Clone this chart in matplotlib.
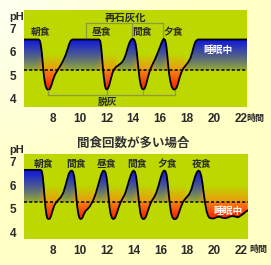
import numpy as np
import matplotlib
matplotlib.use("Agg")
import matplotlib.pyplot as plt
from matplotlib.patches import Polygon

plt.rcParams['font.family'] = ['Noto Sans CJK JP', 'DejaVu Sans']

# ---- data ----
x_ticks = [8, 10, 12, 14, 16, 18, 20, 22]
y_ticks = [4, 5, 6, 7]

top_hours = [5.86, 6.95, 7.04, 7.11, 7.18, 7.25, 7.32, 7.39, 7.47, 7.57, 7.67, 7.78, 7.9, 8.03, 8.17,
             8.34, 8.54, 8.77, 8.95, 9.1, 9.22, 9.33, 9.45,
             11.45, 11.53, 11.6, 11.67, 11.74, 11.81, 11.88, 11.95, 12.03, 12.12, 12.22, 12.33, 12.45,
             12.56, 12.72, 12.94, 13.15, 13.3, 13.45, 13.6, 13.74, 13.87, 13.98, 14.08, 14.17,
             14.25, 14.32, 14.39, 14.46, 14.55, 14.65, 14.75, 14.85, 14.95, 15.06, 15.18, 15.3,
             15.42, 15.6, 15.8, 16.0, 16.15, 16.27, 16.37, 16.45,
             16.52, 16.59, 16.66, 16.75, 16.86, 16.98, 17.1, 17.22, 17.33, 17.45, 17.58, 17.73,
             17.9, 18.08, 18.25, 18.4, 18.53, 18.65, 18.8, 22.47]
top_ph = [6.52, 6.52, 6.47, 6.3, 6.0, 5.55, 5.1, 4.78, 4.55, 4.42, 4.38, 4.42, 4.58, 4.82, 5.03,
          5.2, 5.38, 5.62, 5.85, 6.1, 6.32, 6.46, 6.52,
          6.52, 6.47, 6.25, 5.8, 5.3, 4.9, 4.6, 4.44, 4.4, 4.45, 4.6, 4.85, 5.1,
          5.25, 5.36, 5.45, 5.55, 5.68, 5.9, 6.2, 6.42, 6.53, 6.55, 6.5, 6.35,
          6.05, 5.65, 5.25, 4.9, 4.6, 4.44, 4.4, 4.45, 4.6, 4.85, 5.1, 5.3,
          5.45, 5.66, 5.93, 6.22, 6.45, 6.55, 6.5, 6.3,
          5.95, 5.5, 5.1, 4.78, 4.52, 4.41, 4.4, 4.47, 4.65, 4.9, 5.12, 5.3,
          5.42, 5.55, 5.72, 6.0, 6.28, 6.45, 6.52, 6.52]

bot_hours = [5.86, 7.1, 7.18, 7.25, 7.32, 7.39, 7.46, 7.53, 7.6, 7.7, 7.8, 7.9, 8.0, 8.12, 8.28,
             8.45, 8.6, 8.78, 8.93, 9.07, 9.2, 9.32, 9.42, 9.52, 9.6,
             9.68, 9.75, 9.82, 9.9, 9.98, 10.08, 10.2, 10.32, 10.45, 10.6, 10.75, 10.9, 11.05,
             11.2, 11.35, 11.5, 11.62, 11.73, 11.82, 11.92, 12.0,
             12.08, 12.15, 12.22, 12.3, 12.4, 12.51, 12.63, 12.76, 12.9, 13.05, 13.2, 13.35,
             13.5, 13.65, 13.8, 13.92, 14.02, 14.12, 14.2,
             14.28, 14.36, 14.44, 14.52, 14.62, 14.72, 14.82, 14.94, 15.07, 15.22, 15.38, 15.55,
             15.7, 15.87, 16.02, 16.15, 16.27, 16.38, 16.47,
             16.55, 16.63, 16.71, 16.8, 16.9, 17.02, 17.15, 17.27, 17.4, 17.55, 17.7, 17.85,
             18.0, 18.15, 18.3, 18.45, 18.6, 18.72, 18.84, 18.95, 19.05,
             19.15, 19.25, 19.35, 19.45, 19.55, 19.65, 19.8, 20.0, 20.2, 20.4, 20.6, 20.8,
             21.0, 21.2, 21.4, 21.6, 21.8, 22.0, 22.2, 22.35, 22.5]
bot_ph = [6.65, 6.65, 6.6, 6.4, 6.0, 5.5, 5.05, 4.75, 4.6, 4.57, 4.6, 4.75, 4.95, 5.15, 5.3,
          5.4, 5.5, 5.68, 5.95, 6.25, 6.5, 6.6, 6.62, 6.55, 6.35,
          6.0, 5.55, 5.1, 4.8, 4.62, 4.57, 4.62, 4.78, 4.92, 5.0, 5.1, 5.25, 5.42,
          5.65, 5.95, 6.25, 6.48, 6.6, 6.62, 6.55, 6.35,
          6.0, 5.55, 5.1, 4.8, 4.62, 4.57, 4.62, 4.8, 5.05, 5.28, 5.45, 5.6,
          5.85, 6.15, 6.42, 6.57, 6.62, 6.56, 6.38,
          6.05, 5.6, 5.15, 4.82, 4.63, 4.57, 4.58, 4.68, 4.9, 5.15, 5.35, 5.5,
          5.68, 5.98, 6.3, 6.52, 6.62, 6.6, 6.45,
          6.1, 5.65, 5.2, 4.85, 4.65, 4.57, 4.57, 4.65, 4.85, 5.1, 5.3, 5.42,
          5.52, 5.62, 5.8, 6.1, 6.38, 6.55, 6.62, 6.58, 6.4,
          6.05, 5.6, 5.2, 4.9, 4.72, 4.63, 4.6, 4.6, 4.65, 4.67, 4.63, 4.61,
          4.63, 4.68, 4.7, 4.67, 4.65, 4.72, 4.8, 4.88, 4.93]

top_thr = 5.22
bot_thr = 5.3

top_meals = ["朝食", "昼食", "間食", "夕食"]
top_meal_x = [7.05, 11.6, 14.66, 16.96]
bot_meals = ["朝食", "間食", "昼食", "間食", "夕食", "夜食"]
bot_meal_x = [7.31, 9.73, 11.97, 14.3, 16.49, 19.1]

remin_x = [10.48, 13.88, 16.22]     # 再石灰化 bracket
demin_x = [7.67, 12.03, 14.75, 17.1]  # 脱灰 bracket

GREEN = '#bcd800'
TXT = '#2a2a2a'


def draw_panel(ax, hours, ph, thr, xlim, ylim):
    hours = np.array(hours)
    ph = np.array(ph)
    ax.set_xlim(*xlim)
    ax.set_ylim(*ylim)
    ax.set_facecolor(GREEN)
    for s in ax.spines.values():
        s.set_visible(False)

    nx, ny = 700, 400
    xs = np.linspace(xlim[0], xlim[1], nx)
    ys = np.linspace(ylim[0], ylim[1], ny)
    ext = [xlim[0], xlim[1], ylim[0], ylim[1]]

    # fill between curve and the critical line, coloured by height
    fill = np.zeros((ny, nx, 4))
    top = ph.max()
    bot = ph.min()
    for i, y in enumerate(ys):
        if y >= thr:
            a = np.clip((y - thr) / (top - thr), 0, 1)
            fill[i, :, :3] = (0.05, 0.08, 0.88)
            fill[i, :, 3] = 0.18 + 0.82 * a ** 0.8
        else:
            t = np.clip((thr - y) / (thr - bot), 0, 1)
            c = np.array((0.96, 0.52, 0.06)) * (1 - t) + np.array((0.98, 0.1, 0.0)) * t
            fill[i, :, :3] = c
            fill[i, :, 3] = 1.0
    verts = list(zip(hours, ph)) + list(zip(hours[::-1], [thr] * len(hours)))
    poly = Polygon(verts, closed=True, facecolor='none', edgecolor='none')
    ax.add_patch(poly)
    im = ax.imshow(fill, extent=ext, origin='lower', aspect='auto', zorder=1,
                   interpolation='bilinear')
    im.set_clip_path(poly)

    # orange glow above the line near the acid dips
    cur = np.interp(xs, hours, ph)
    xb = xs[cur < thr]
    dist = np.abs(xs[:, None] - xb[None, :]).min(axis=1)
    w = np.exp(-(dist / 0.35) ** 2)
    f = np.clip(1 - (ys - thr) / 0.7, 0, 1) * (ys >= thr)
    glow = np.zeros((ny, nx, 4))
    glow[..., :3] = (0.97, 0.56, 0.06)
    glow[..., 3] = 0.85 * f[:, None] * w[None, :]
    ax.imshow(glow, extent=ext, origin='lower', aspect='auto', zorder=2,
              interpolation='bilinear')

    ax.axhline(thr, color='k', lw=1.1, ls=(0, (2, 1.4)), zorder=3)
    ax.plot(hours, ph, color='k', lw=1.3, zorder=4, solid_joinstyle='round')

    ax.set_xticks(x_ticks)
    ax.set_yticks(y_ticks)
    ax.tick_params(length=0, labelsize=8.5, colors=TXT)
    ax.tick_params(axis='y', pad=5.5)
    ax.tick_params(axis='x', pad=4.5)
    for lab in ax.get_xticklabels() + ax.get_yticklabels():
        lab.set_family('Liberation Sans')
        lab.set_fontweight('bold')


fig = plt.figure(figsize=(2.71, 2.65), dpi=100)

# pale yellow page with a lighter corner
bg = fig.add_axes([0, 0, 1, 1], zorder=-10)
gx, gy = np.meshgrid(np.linspace(0, 1, 200), np.linspace(0, 1, 200))
t = np.clip(np.sqrt(gx ** 2 + gy ** 2) / 0.7, 0, 1)
page = np.zeros((200, 200, 3))
for k, (c0, c1) in enumerate(zip((1.0, 1.0, 0.95), (1.0, 1.0, 0.78))):
    page[..., k] = c0 * (1 - t) + c1 * t
bg.imshow(page, extent=[0, 1, 0, 1], origin='upper', aspect='auto')
bg.axis('off')

xlim = (5.86, 22.47)
ax1 = fig.add_axes([24 / 271, 1 - 107 / 265, 223 / 271, 97 / 265])
draw_panel(ax1, top_hours, top_ph, top_thr, xlim, (3.66, 7.77))

ax2 = fig.add_axes([24 / 271, 1 - 239 / 265, 224 / 271, 85 / 265])
draw_panel(ax2, bot_hours, bot_ph, bot_thr, (5.86, 22.53), (3.73, 7.32))

# labels, top panel
for name, x in zip(top_meals, top_meal_x):
    ax1.text(x, 6.82, name, ha='center', va='center', fontsize=7, weight='bold',
             color=TXT, zorder=6)
ax1.text(13.4, 7.45, "再石灰化", ha='center', va='center', fontsize=7.5, weight='bold',
         color=TXT, zorder=6)
ax1.plot([remin_x[0], remin_x[-1]], [7.23, 7.23], color='#8c9c3c', lw=0.9, zorder=5)
for x in remin_x:
    ax1.plot([x, x], [7.23, 6.56], color='#8c9c3c', lw=0.9, zorder=0.5)
ax1.plot([demin_x[0], demin_x[-1]], [4.17, 4.17], color='#8c9c3c', lw=0.9, zorder=5)
for x in demin_x:
    ax1.plot([x, x], [4.17, 4.4], color='#8c9c3c', lw=0.9, zorder=5)
ax1.text(12.05, 3.89, "脱灰", ha='center', va='center', fontsize=7, weight='bold',
         color=TXT, zorder=6)
ax1.text(20.3, 6.08, "睡眠中", ha='center', va='center', fontsize=7, weight='bold',
         color='white', zorder=6)

# labels, bottom panel
for name, x in zip(bot_meals, bot_meal_x):
    ax2.text(x, 6.9, name, ha='center', va='center', fontsize=7, weight='bold',
             color=TXT, zorder=6)
ax2.text(21.03, 4.93, "睡眠中", ha='center', va='center', fontsize=7, weight='bold',
         color='white', zorder=6)

fig.text(133 / 271, 1 - 143 / 265, "間食回数が多い場合", ha='center', va='center',
         fontsize=9, weight='bold', color='#333333')
fig.text(16.5 / 271, 1 - 16.7 / 265, "pH", ha='center', va='center', fontsize=8,
         weight='bold', color=TXT, family='Liberation Sans')
fig.text(16.5 / 271, 1 - 150 / 265, "pH", ha='center', va='center', fontsize=8,
         weight='bold', color=TXT, family='Liberation Sans')
fig.text(255 / 271, 1 - 118 / 265, "時間", ha='center', va='center', fontsize=6.5,
         weight='bold', color=TXT)
fig.text(258 / 271, 1 - 249.5 / 265, "時間", ha='center', va='center', fontsize=6.5,
         weight='bold', color=TXT)

fig.savefig("out.png", dpi=100)
